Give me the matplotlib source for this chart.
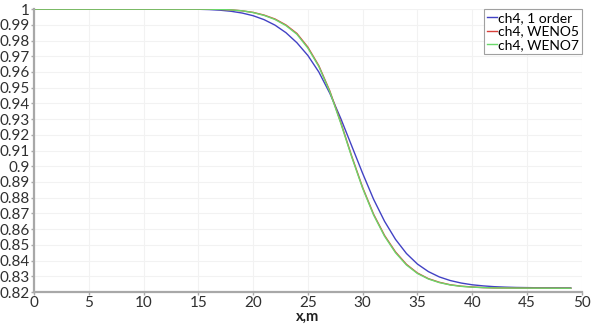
import matplotlib
matplotlib.use("Agg")
import matplotlib.pyplot as plt

# profiles of ch4 along x
x_order1 = [0, 10, 14, 15, 16, 17, 18, 19, 20, 21, 22, 23, 24, 25, 26, 27, 28, 29,
            30, 31, 32, 33, 34, 35, 36, 37, 38, 39, 40, 41, 42, 43, 44, 46, 49]
ch4_order1 = [1.0, 1.0, 1.0, 0.9999, 0.9997, 0.9993, 0.9986, 0.9975, 0.9958, 0.9933,
              0.9898, 0.9850, 0.9786, 0.9705, 0.9600, 0.9465, 0.9305, 0.9130, 0.8955,
              0.8790, 0.8650, 0.8535, 0.8445, 0.8378, 0.8330, 0.8296, 0.8273, 0.8257,
              0.8246, 0.8239, 0.8234, 0.8231, 0.8229, 0.8227, 0.8226]

x_weno = [0, 10, 15, 16, 17, 18, 19, 20, 21, 22, 23, 24, 25, 26, 27, 28, 29, 30,
          31, 32, 33, 34, 35, 36, 37, 38, 39, 40, 41, 42, 44, 49]
ch4_weno5 = [1.0, 1.0, 1.0, 0.99995, 0.9998, 0.9995, 0.9989, 0.9979, 0.9962, 0.9937,
             0.9899, 0.9845, 0.9758, 0.9640, 0.9480, 0.9280, 0.9065, 0.8865, 0.8695,
             0.8560, 0.8455, 0.8376, 0.8321, 0.8285, 0.8262, 0.8246, 0.8237, 0.8232,
             0.8228, 0.8226, 0.8225, 0.8224]
ch4_weno7 = [1.0, 1.0, 1.0, 0.99995, 0.9998, 0.9995, 0.9989, 0.9978, 0.9960, 0.9934,
             0.9895, 0.9840, 0.9752, 0.9635, 0.9475, 0.9275, 0.9060, 0.8860, 0.8690,
             0.8555, 0.8450, 0.8372, 0.8318, 0.8283, 0.8260, 0.8245, 0.8236, 0.8231,
             0.8228, 0.8226, 0.8225, 0.8224]

x_ticks = [0, 5, 10, 15, 20, 25, 30, 35, 40, 45, 50]
y_ticks = [0.82, 0.83, 0.84, 0.85, 0.86, 0.87, 0.88, 0.89, 0.9, 0.91, 0.92, 0.93,
           0.94, 0.95, 0.96, 0.97, 0.98, 0.99, 1]

plt.rcParams['font.family'] = ['Lato', 'DejaVu Sans']

fig = plt.figure(figsize=(5.93, 3.25), dpi=100)
ax = fig.add_axes([0.0573, 0.1015, 0.9237, 0.8705])

ax.plot(x_order1, ch4_order1, color='#4242c4', lw=1.0, label='ch4, 1 order')
ax.plot(x_weno, ch4_weno5, color='#d8403a', lw=1.0, label='ch4, WENO5')
ax.plot(x_weno, ch4_weno7, color='#6ad86a', lw=1.0, label='ch4, WENO7')

ax.set_xlim(0, 50)
ax.set_ylim(0.82, 1.0)
ax.set_xticks(x_ticks)
ax.set_xticklabels([str(t) for t in x_ticks])
ax.set_yticks(y_ticks)
ax.set_yticklabels([('%g' % t) for t in y_ticks])
ax.grid(True, color='#f2f2f2', lw=0.8)
ax.set_axisbelow(True)

for s in ['top', 'right']:
    ax.spines[s].set_visible(False)
for s in ['left', 'bottom']:
    ax.spines[s].set_color('#a8a8a8')
    ax.spines[s].set_linewidth(1.6)
ax.tick_params(length=2, width=1, color='#a8a8a8', labelsize=11, pad=1,
               labelcolor='#303030')

ax.set_xlabel('x,m', fontsize=10.5, fontweight='bold', labelpad=0, color='#202020')

leg = ax.legend(loc='upper right', fontsize=10, handlelength=0.7, handletextpad=0.1,
                borderpad=0.2, labelspacing=0.12, fancybox=False, framealpha=1,
                borderaxespad=0.2, bbox_to_anchor=(1.005, 1.01))
leg.get_frame().set_edgecolor('#a0a0a0')
leg.get_frame().set_linewidth(0.8)

fig.savefig('out.png', dpi=100)
